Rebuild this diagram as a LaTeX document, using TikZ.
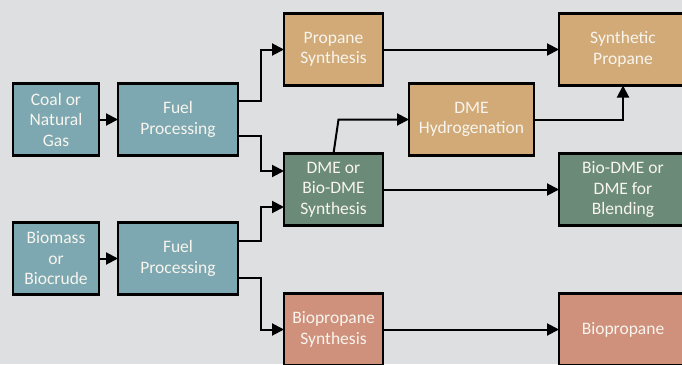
\documentclass[tikz,border=0pt]{standalone}
\usepackage{fontspec}
\setmainfont{Carlito}
\usepackage{tikz}
\usetikzlibrary{positioning,arrows.meta}
\definecolor{bgclr}{RGB}{222,223,225}
\definecolor{feedclr}{RGB}{125,168,177}
\definecolor{propclr}{RGB}{209,170,120}
\definecolor{dmeclr}{RGB}{107,138,120}
\definecolor{bioclr}{RGB}{207,144,124}
\definecolor{txtclr}{RGB}{248,245,238}
\tikzset{ %
  ,>={Triangle[length=12pt,width=12pt]}
  ,every node/.style={font=\fontsize{17.5}{20.5}\selectfont}
  ,box/.style={draw, line width=2.4pt, text=txtclr, align=center, inner sep=0, outer sep=0, minimum height=72pt}
  ,feed/.style={box, fill=feedclr}
  ,prop/.style={box, fill=propclr}
  ,dme/.style={box, fill=dmeclr}
  ,bio/.style={box, fill=bioclr}
  ,link/.style={->, line width=2pt}
}

\begin{document}
\begin{tikzpicture}
      \path[use as bounding box] (0,0) rectangle (682pt,-364pt);
      \clip (0,0) rectangle (682pt,-364pt);
      \fill[bgclr] (0,0) rectangle (682pt,-364pt);
      % feedstocks and processing
      \node[feed, minimum width=86pt] (coal) at (56pt,-119.5pt) {Coal or\\Natural\\Gas};
      \node[feed, minimum width=120pt, right=19pt of coal] (fuelA) {Fuel\\Processing};
      \node[feed, minimum width=86pt, below=67pt of coal] (biomass) {Biomass\\or\\Biocrude};
      \node[feed, minimum width=120pt, right=19pt of biomass] (fuelB) {Fuel\\Processing};
      % synthesis
      \node[prop, minimum width=99pt, above right=-2pt and 46pt of fuelA] (propsyn) {Propane\\Synthesis};
      \node[dme, minimum width=99pt, below right=-2pt and 46pt of fuelA] (dmesyn) {DME or\\Bio-DME\\Synthesis};
      \node[bio, minimum width=99pt, below=68pt of dmesyn] (biopsyn) {Biopropane\\Synthesis};
      \node[prop, minimum width=125pt, below right=-2pt and 26pt of propsyn] (hydro) {DME\\Hydrogenation};
      % products
      \node[prop, minimum width=128pt, right=176pt of propsyn] (synprop) {Synthetic\\Propane};
      \node[dme, minimum width=128pt, right=176pt of dmesyn] (blend) {Bio-DME or\\DME for\\Blending};
      \node[bio, minimum width=128pt, right=176pt of biopsyn] (biop) {Biopropane};
      % links
      \draw[link] (coal) -- (fuelA);
      \draw[link] (biomass) -- (fuelB);
      \draw[link] ([yshift=18.5pt]fuelA.east) -- ++(23pt,0) |- (propsyn);
      \draw[link] ([yshift=-16.5pt]fuelA.east) -- ++(23pt,0) |- ([yshift=18.5pt]dmesyn.west);
      \draw[link] ([yshift=18pt]fuelB.east) -- ++(23pt,0) |- ([yshift=-17.5pt]dmesyn.west);
      \draw[link] ([yshift=-19pt]fuelB.east) -- ++(23pt,0) |- (biopsyn);
      \draw[link] (propsyn) -- (synprop);
      \draw[link] (dmesyn.north) -- ([xshift=5pt]dmesyn.north |- hydro.west) -- (hydro.west);
      \draw[link] (hydro) -| (synprop);
      \draw[link] (dmesyn) -- (blend);
      \draw[link] (biopsyn) -- (biop);
    \end{tikzpicture}
\end{document}
